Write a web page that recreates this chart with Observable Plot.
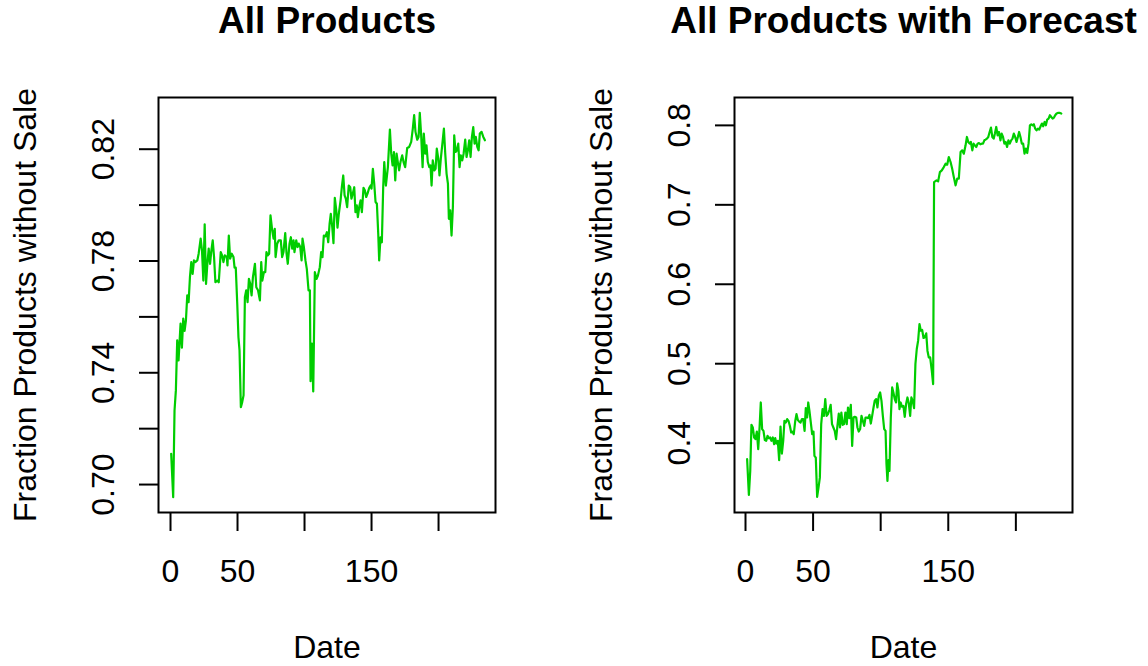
<!DOCTYPE html>
<html><head><meta charset="utf-8">
<script src="https://cdn.jsdelivr.net/npm/d3@7"></script>
<script src="https://cdn.jsdelivr.net/npm/@observablehq/plot@0.6"></script>
<style>
body{margin:0;background:#fff}
#c{display:flex;width:1148px;height:666px}
</style>
</head><body><div id="c"></div>
<script>
const panelTitles = ["All Products", "All Products with Forecast"];
const xAxisTitle = "Date";
const yAxisTitle = "Fraction Products without Sale";
const xTicks = [0, 50, 100, 150, 200];
const xTickLabels = [0, 50, 150];
const leftYTicks = [0.70, 0.72, 0.74, 0.76, 0.78, 0.80, 0.82];
const leftYTickLabels = ["0.70", "0.74", "0.78", "0.82"];
const rightYTicks = [0.4, 0.5, 0.6, 0.7, 0.8];
const rightYTickLabels = ["0.4", "0.5", "0.6", "0.7", "0.8"];

// [Date, Fraction]
const allProducts = [
[0.5,0.711],[2,0.6955],[3,0.7265],[4,0.7337],[5,0.7516],[6,0.7444],[7.5,0.7576],[8.5,0.749],[9.5,0.7594],[10.5,0.755],
[11.5,0.7587],[12.5,0.7677],[13.5,0.7653],[14.5,0.7742],[15.5,0.7796],[16.5,0.7754],[17.5,0.7802],[18.5,0.7796],[20,0.7802],[21,0.7826],
[22.5,0.788],[23.5,0.7838],[24.5,0.773],[25.5,0.7931],[26.5,0.7718],[27.5,0.779],[28.5,0.7844],[29.5,0.779],[30.5,0.7838],[31.5,0.7874],
[32.5,0.7814],[33.5,0.7724],[35,0.773],[36,0.7724],[37.5,0.7832],[38.5,0.782],[39.5,0.7796],[40.5,0.782],[42,0.7814],[42.5,0.7784],
[43.5,0.7891],[44.5,0.7808],[45.7,0.7826],[47,0.7814],[47.8,0.7776],[48.7,0.7776],[49.8,0.7647],[50.7,0.7527],[51.5,0.748],[52.5,0.7277],
[53.5,0.7295],[54.5,0.7319],[55.5,0.767],[56.5,0.7695],[57.5,0.7653],[58.5,0.7736],[59.5,0.7718],[60.5,0.7677],[61.5,0.7742],[63,0.779],
[64,0.7706],[65.3,0.7695],[66.7,0.7659],[67.7,0.7796],[68.5,0.773],[69.7,0.776],[70.7,0.776],[71.6,0.7832],[72.6,0.782],[73.6,0.7826],
[74.6,0.7963],[75.9,0.7909],[76.9,0.788],[77.8,0.7915],[78.4,0.7814],[79.6,0.7862],[80.8,0.7874],[82.3,0.7874],[83.3,0.7814],[84.3,0.7832],
[85.6,0.79],[86.6,0.7826],[87.5,0.779],[88.8,0.7862],[89.8,0.7885],[90.8,0.7844],[91.8,0.7874],[92.5,0.7832],[93.8,0.7874],[94.8,0.785],
[95.7,0.7862],[96.8,0.785],[97.8,0.7802],[98.5,0.788],[99.5,0.785],[100.7,0.7802],[101.7,0.7772],[103,0.7695],[104,0.7695],[104.5,0.737],
[105.5,0.7504],[106.5,0.7333],[107.7,0.776],[109,0.7736],[110,0.7748],[111.4,0.7778],[112.4,0.7832],[113.4,0.7814],[114.4,0.7891],[115.7,0.7888],
[116.7,0.7903],[117.7,0.7867],[118.7,0.7933],[119.6,0.7969],[120.7,0.7921],[121.6,0.7864],[122.6,0.8026],[123.7,0.7981],[124.6,0.7919],[125.6,0.7969],
[126.9,0.8017],[127.9,0.8067],[128.9,0.8106],[129.9,0.8035],[130.8,0.8023],[131.8,0.7993],[133,0.807],[134.1,0.8064],[135,0.8023],[136,0.8041],
[137.1,0.8064],[138,0.7975],[139,0.7999],[139.8,0.7957],[140.8,0.7993],[141.8,0.8017],[142.8,0.7975],[144,0.8062],[145,0.8053],[146,0.8029],
[147,0.8041],[148.3,0.8062],[149.3,0.807],[150,0.8059],[151,0.813],[152,0.8077],[153,0.8011],[154,0.8005],[155,0.7898],[155.7,0.7802],
[156.7,0.7885],[157.7,0.7867],[158.7,0.8064],[159.5,0.8154],[160.7,0.807],[162.2,0.8136],[163.7,0.827],[164.7,0.8184],[165.7,0.8142],[166.7,0.819],
[167.7,0.8088],[168.7,0.8184],[169.6,0.8154],[170.6,0.8124],[171.6,0.8154],[172.9,0.8178],[173.9,0.8154],[175.1,0.8136],[176.6,0.8204],[178.1,0.8208],
[179.6,0.8226],[180.8,0.8274],[181.8,0.8322],[182.8,0.8262],[184.1,0.8234],[185.1,0.8244],[186,0.833],[187.1,0.8244],[188.1,0.8136],[189,0.8256],
[190.1,0.8184],[191,0.8214],[192,0.8154],[193.1,0.8136],[194,0.8142],[194.8,0.807],[195.7,0.816],[196.8,0.8124],[197.8,0.813],[198.7,0.8202],
[199.8,0.8166],[200.7,0.8106],[201.7,0.8166],[203,0.8226],[204,0.8274],[205,0.8184],[206,0.8112],[207,0.8077],[207.7,0.7951],[208.7,0.7981],
[209.7,0.7891],[210.7,0.7993],[211.7,0.825],[212.7,0.819],[213.7,0.8196],[214.7,0.822],[215.7,0.8136],[216.6,0.8178],[217.7,0.816],[218.7,0.8184],
[219.9,0.8234],[220.9,0.8172],[221.9,0.8196],[222.9,0.8232],[223.9,0.8172],[224.9,0.8244],[225.9,0.8279],[226.9,0.822],[227.8,0.8244],[228.9,0.8208],
[229.9,0.8196],[230.8,0.8256],[232.1,0.8262],[233.4,0.8244],[234.6,0.8232]
];

// [Date, Fraction]
const withForecast = [
[1.2,0.3798],[2.5,0.3348],[3.5,0.365],[4.4,0.4231],[5.4,0.4197],[6.4,0.4071],[7.4,0.405],[8.4,0.4146],[9.4,0.3924],[10.4,0.4197],
[11.3,0.4512],[12.3,0.4177],[13.3,0.4155],[14.3,0.4038],[15.3,0.4029],[16.3,0.4092],[17.2,0.4063],[18.2,0.4071],[19.2,0.4029],[20.2,0.4071],
[21.2,0.3987],[22,0.4063],[22.9,0.3995],[23.9,0.4029],[24.9,0.3786],[25.9,0.4209],[26.9,0.3869],[27.9,0.4029],[28.8,0.4281],[29.8,0.426],
[30.8,0.4303],[31.8,0.4281],[32.8,0.4218],[33.8,0.4134],[34.8,0.4146],[35.7,0.4113],[36.8,0.4281],[37.7,0.4366],[38.7,0.429],[39.7,0.4272],
[40.7,0.426],[41.7,0.4303],[42.7,0.4303],[43.7,0.4155],[44.6,0.4441],[45.6,0.4323],[46.4,0.4512],[47.3,0.4407],[48.3,0.426],[49.3,0.4113],
[50.3,0.4146],[51,0.384],[52,0.3818],[53,0.3323],[54,0.344],[55,0.3566],[56,0.424],[57,0.4429],[58,0.4344],[59,0.4555],
[60,0.4344],[61,0.4366],[62,0.4416],[63,0.4483],[64,0.424],[65,0.4197],[66,0.4155],[67,0.405],[68,0.4218],[69,0.4373],
[69.9,0.4197],[70.9,0.4386],[71.9,0.4231],[72.9,0.424],[73.9,0.4386],[74.9,0.424],[75.8,0.4449],[76.8,0.4315],[77.9,0.4483],[78.9,0.3966],
[79.9,0.4323],[80.8,0.4332],[81.9,0.4323],[82.8,0.4197],[83.8,0.4146],[84.8,0.4177],[85.8,0.4344],[86.8,0.4281],[87.8,0.4218],[88.8,0.4323],
[89.7,0.4323],[90.8,0.4315],[91.7,0.4357],[92.7,0.4247],[93.7,0.4344],[94.7,0.4449],[95.6,0.4533],[96.7,0.4555],[97.6,0.4449],[98.6,0.4597],
[99.6,0.4638],[100.6,0.4533],[101.6,0.4344],[102.6,0.4177],[103.6,0.4155],[104.3,0.3735],[105,0.3525],[105.8,0.3786],[106.5,0.3651],[107.5,0.4323],
[108.5,0.4701],[109.4,0.4638],[110.4,0.4555],[111.4,0.4512],[112.2,0.4752],[113.1,0.466],[113.9,0.4429],[114.8,0.4512],[115.8,0.4458],[116.8,0.447],
[117.8,0.4332],[118.8,0.4492],[119.8,0.4575],[120.7,0.4512],[121.8,0.4344],[122.7,0.4575],[123.7,0.4533],[124.7,0.4441],[125.7,0.4996],[126.7,0.5185],
[127.7,0.529],[128.7,0.55],[129.7,0.5416],[130.7,0.5425],[131.7,0.5324],[132.6,0.5332],[133.7,0.5382],[134.6,0.5164],[135.6,0.5079],[136.6,0.5079],
[137.8,0.4912],[138.8,0.4744],[139.5,0.7286],[141.3,0.7308],[142.5,0.7295],[143.8,0.7412],[145.2,0.7434],[146.7,0.7475],[148,0.7518],[149.2,0.7505],
[150.4,0.7602],[151.7,0.7539],[152.9,0.7455],[154.1,0.7349],[155.4,0.7245],[156.6,0.7329],[157.8,0.7329],[159.1,0.7665],[160.3,0.7686],[161.5,0.7644],
[162.8,0.7749],[163.8,0.7854],[164.8,0.7791],[165.8,0.777],[166.7,0.7791],[167.8,0.7686],[168.7,0.777],[169.7,0.7749],[170.7,0.7728],[171.7,0.777],
[172.7,0.7778],[173.7,0.7762],[174.7,0.777],[175.7,0.777],[176.7,0.7812],[177.6,0.7821],[178.6,0.7833],[179.6,0.7854],[180.6,0.7917],[181.6,0.7972],
[182.6,0.7854],[183.6,0.7833],[184.5,0.7897],[185.5,0.798],[186.5,0.7875],[187.5,0.7917],[188.6,0.7812],[189.5,0.7897],[190.5,0.7854],[191.5,0.777],
[192.5,0.7791],[193.5,0.7728],[194.5,0.7812],[195.5,0.777],[196.5,0.7812],[197.5,0.7833],[198.5,0.7897],[199.5,0.7854],[200.5,0.7791],[201.5,0.7854],
[202.4,0.7917],[203.4,0.7854],[204.4,0.777],[205.4,0.777],[206.4,0.7644],[207.4,0.7707],[208.4,0.7652],[209.4,0.777],[210.4,0.8001],[211.4,0.8014],
[212.4,0.8001],[213.3,0.8014],[214.3,0.796],[215.3,0.7938],[216.3,0.796],[217.3,0.7947],[218.3,0.7989],[219.3,0.8023],[220.2,0.7989],[221.3,0.8043],
[222.2,0.8001],[223.2,0.8073],[224.2,0.8086],[225.2,0.8128],[226.2,0.8106],[227.2,0.8086],[228.2,0.8098],[229.1,0.8128],[230.1,0.8149],[231.1,0.8157],
[232.6,0.8157],[233.6,0.8149]
];

const FONT = "'Liberation Sans', Arial, Helvetica, sans-serif";
const LINE_COLOR = "#00CD00";
const FS = 32;

function panel({title, data, xDomain, yDomain, yTicks, yTickLabels, marginLeft, marginRight}) {
  return Plot.plot({
    width: 574, height: 666,
    marginLeft, marginRight, marginTop: 97, marginBottom: 154,
    style: {fontFamily: FONT, fontSize: FS + "px", color: "black", background: "white"},
    x: {domain: xDomain},
    y: {domain: yDomain},
    marks: [
      Plot.frame({stroke: "black", strokeWidth: 2}),
      Plot.line(data, {x: d => d[0], y: d => d[1], stroke: LINE_COLOR, strokeWidth: 2.2}),
      Plot.axisX({ticks: xTicks, tickSize: 19, tickFormat: () => "", strokeWidth: 2, label: null}),
      Plot.axisY({ticks: yTicks, tickSize: 19, tickFormat: () => "", strokeWidth: 2, label: null}),
      Plot.text(xTickLabels, {x: d => d, text: d => String(d), frameAnchor: "bottom", dy: 69, lineAnchor: "bottom", fontSize: FS, fill: "black"}),
      Plot.text(yTickLabels, {y: d => +d, text: d => d, frameAnchor: "left", dx: -45, rotate: -90, lineAnchor: "bottom", textAnchor: "middle", fontSize: FS, fill: "black"}),
      Plot.text([xAxisTitle], {frameAnchor: "bottom", dy: 145, lineAnchor: "bottom", fontSize: FS, fill: "black"}),
      Plot.text([yAxisTitle], {frameAnchor: "left", dx: -123, rotate: -90, lineAnchor: "bottom", textAnchor: "middle", fontSize: FS, fill: "black"}),
      Plot.text([title], {frameAnchor: "top", dy: -65, lineAnchor: "bottom", fontSize: 37, fontWeight: "bold", fill: "black"})
    ]
  });
}

const c = document.getElementById("c");
c.appendChild(panel({
  title: panelTitles[0], data: allProducts,
  xDomain: [-8.96, 242.5], yDomain: [0.69, 0.8385],
  yTicks: leftYTicks, yTickLabels: leftYTickLabels,
  marginLeft: 158, marginRight: 79
}));
c.appendChild(panel({
  title: panelTitles[1], data: withForecast,
  xDomain: [-8.14, 241.9], yDomain: [0.3127, 0.8351],
  yTicks: rightYTicks, yTickLabels: rightYTickLabels,
  marginLeft: 160, marginRight: 76
}));
</script>
</body></html>
